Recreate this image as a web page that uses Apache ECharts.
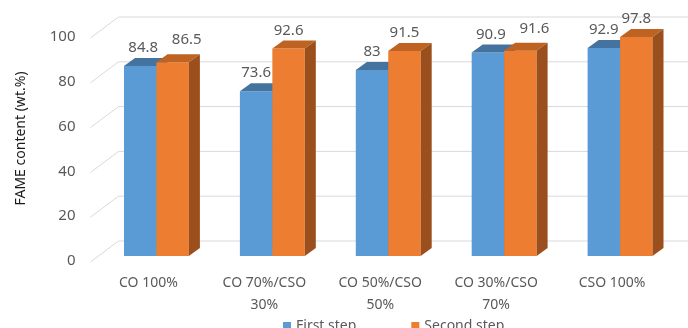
<!DOCTYPE html>
<html>
<head>
<meta charset="utf-8">
<script src="https://cdn.jsdelivr.net/npm/echarts@6/dist/echarts.min.js"></script>
<style>
  html, body { margin: 0; padding: 0; background: #ffffff; }
  #chart { width: 688px; height: 328px; }
</style>
</head>
<body>
<div id="chart"></div>
<script>
// FAME content per oil blend, two transesterification steps
const categories = ['CO 100%', 'CO 70%/CSO\n30%', 'CO 50%/CSO\n50%', 'CO 30%/CSO\n70%', 'CSO 100%'];
const firstStep = [84.8, 73.6, 83, 90.9, 92.9];
const secondStep = [86.5, 92.6, 91.5, 91.6, 97.8];
const yTicks = [0, 20, 40, 60, 80, 100];
const seriesNames = ['First step', 'Second step'];

// pseudo-3D depth of each bar and of the floor/back wall
const BAR_DX = 11, BAR_DY = 8;
const FLOOR_FRONT = [-8, 6];
const FLOOR_BACK = [20, -15];
const FONT = '"Noto Sans", "Open Sans", sans-serif';

const faces = [
  { front: '#5b9bd5', top: '#44739f', side: '#3d6a96' },
  { front: '#ed7d31', top: '#bf6322', side: '#9b4f1c' }
];
const seriesValues = [firstStep, secondStep];

function barRenderer(sIdx) {
  return function (params, api) {
    const cat = api.value(0);
    const val = api.value(1);
    const top = api.coord([cat, val]);
    const base = api.coord([cat, 0]);
    const band = api.size([1, 0])[0];
    const w = band * 0.28;
    const x0 = top[0] + (sIdx === 0 ? -w : 0);
    const f = faces[sIdx];

    // nudge value labels apart when the pair of bars is nearly level
    const other = api.coord([cat, seriesValues[1 - sIdx][cat]]);
    const crowded = Math.abs(top[1] - other[1]) < 10;
    let ldx = 0, ldy = 0;
    if (crowded) {
      if (sIdx === 1) { ldx = 14; ldy = -4.5; }
      else { ldx = 3; }
    }

    return {
      type: 'group',
      children: [
        {
          type: 'rect',
          shape: { x: x0, y: top[1], width: w, height: base[1] - top[1] },
          style: { fill: f.front }
        },
        {
          type: 'polygon',
          shape: { points: [[x0, top[1]], [x0 + w, top[1]], [x0 + w + BAR_DX, top[1] - BAR_DY], [x0 + BAR_DX, top[1] - BAR_DY]] },
          style: { fill: f.top }
        },
        {
          type: 'polygon',
          shape: { points: [[x0 + w, top[1]], [x0 + w + BAR_DX, top[1] - BAR_DY], [x0 + w + BAR_DX, base[1] - BAR_DY], [x0 + w, base[1]]] },
          style: { fill: f.side }
        },
        {
          type: 'text',
          x: x0 + w / 2 + ldx,
          y: top[1] - 18 + ldy,
          style: {
            text: String(val),
            fill: '#595959',
            fontSize: 15,
            fontFamily: FONT,
            align: 'center',
            verticalAlign: 'middle'
          }
        }
      ]
    };
  };
}

// back-wall gridlines with the diagonal floor/side edge, plus their tick labels
function gridRenderer(params, api) {
  const v = api.value(1);
  const p = api.coord([0, v]);
  const xL = params.coordSys.x;
  const y = p[1];
  return {
    type: 'group',
    children: [
      {
        type: 'polyline',
        shape: {
          points: [
            [xL + FLOOR_FRONT[0], y + FLOOR_FRONT[1]],
            [xL + FLOOR_BACK[0], y + FLOOR_BACK[1]],
            [api.getWidth(), y + FLOOR_BACK[1]]
          ]
        },
        style: { stroke: '#d9d9d9', lineWidth: 1, fill: null }
      },
      {
        type: 'text',
        x: xL + FLOOR_FRONT[0] - 15,
        y: y + FLOOR_FRONT[1] - 1,
        style: {
          text: String(v),
          fill: '#595959',
          fontSize: 15,
          fontFamily: FONT,
          align: 'right',
          verticalAlign: 'middle'
        }
      }
    ]
  };
}

const chart = echarts.init(document.getElementById('chart'), null, { renderer: 'canvas' });
chart.setOption({
  animation: false,
  color: [faces[0].front, faces[1].front],
  grid: { left: 98.5, right: 10, top: 32, bottom: 72 },
  legend: {
    data: seriesNames,
    icon: 'rect',
    itemWidth: 8,
    itemHeight: 8,
    itemGap: 55,
    left: 278,
    top: 314,
    textStyle: { fontSize: 14, color: '#595959', fontFamily: FONT }
  },
  xAxis: {
    type: 'category',
    data: categories,
    axisLine: { show: false },
    axisTick: { show: false },
    splitLine: { show: false },
    axisLabel: {
      interval: 0,
      margin: 16,
      lineHeight: 22,
      fontSize: 14,
      color: '#595959',
      fontFamily: FONT,
      padding: [0, 16, 0, 0]
    }
  },
  yAxis: {
    type: 'value',
    min: 0,
    max: 100,
    interval: 20,
    name: 'FAME content (wt.%)',
    nameLocation: 'middle',
    nameGap: 70,
    nameTextStyle: { fontSize: 14, color: '#1a1a1a', fontFamily: FONT, padding: [0, 0, 0, 11] },
    axisLine: { show: false },
    axisTick: { show: false },
    splitLine: { show: false },
    axisLabel: { show: false }
  },
  series: [
    {
      name: 'grid',
      type: 'custom',
      z: 1,
      silent: true,
      renderItem: gridRenderer,
      data: yTicks.map(v => [0, v]),
      encode: { x: 0, y: 1 }
    },
    {
      name: seriesNames[0],
      type: 'custom',
      z: 2,
      itemStyle: { color: faces[0].front },
      renderItem: barRenderer(0),
      data: firstStep.map((v, i) => [i, v]),
      encode: { x: 0, y: 1 }
    },
    {
      name: seriesNames[1],
      type: 'custom',
      z: 3,
      itemStyle: { color: faces[1].front },
      renderItem: barRenderer(1),
      data: secondStep.map((v, i) => [i, v]),
      encode: { x: 0, y: 1 }
    }
  ]
});
</script>
</body>
</html>
